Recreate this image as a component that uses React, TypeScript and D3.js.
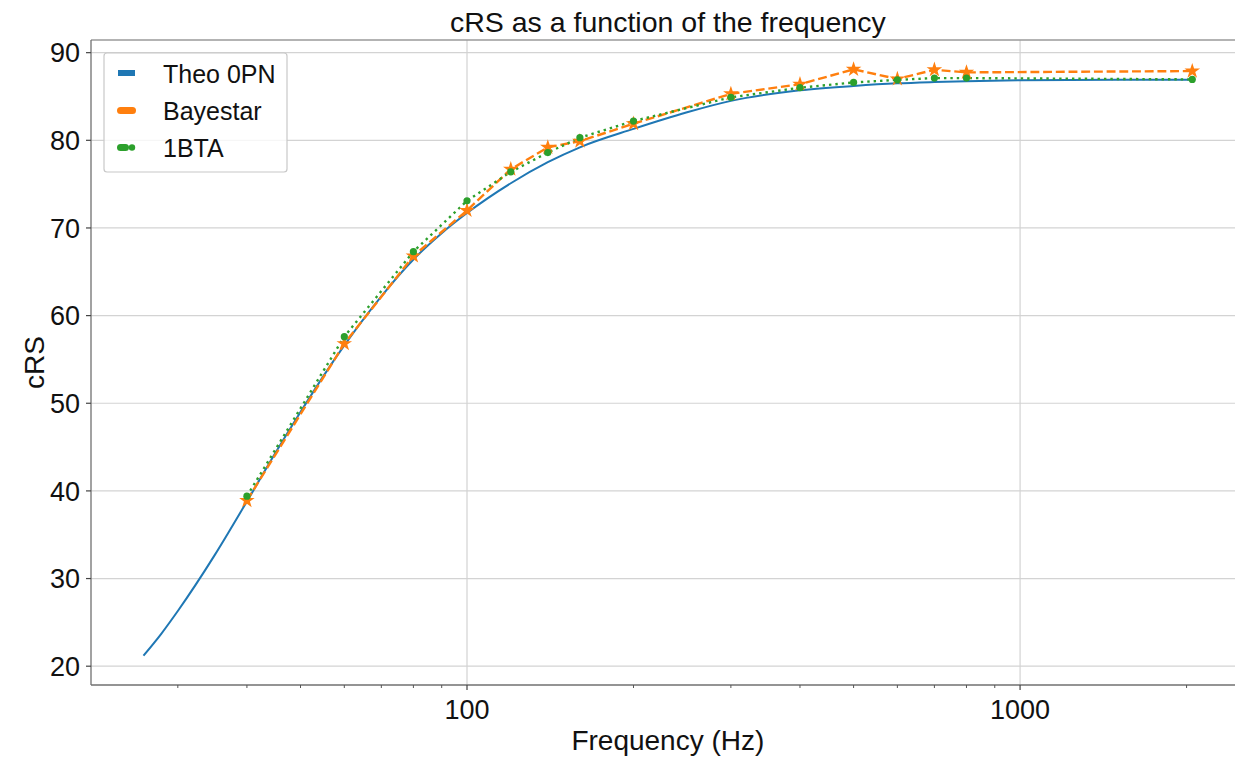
import React from "react";
import * as d3 from "d3";

// ---- data ----
const theoFreq = [26, 28, 30, 35, 40, 45, 50, 55, 60, 70, 80, 90, 100, 120, 140, 160, 200, 250, 300, 400, 500, 600, 700, 800, 1000, 1500, 2048];
const theoCRS = [21.2, 23.7, 26.3, 32.7, 38.8, 44.3, 49.0, 53.1, 56.6, 62.2, 66.4, 69.4, 71.7, 75.1, 77.5, 79.2, 81.3, 83.2, 84.5, 85.7, 86.2, 86.5, 86.65, 86.75, 86.85, 86.9, 86.9];

const measFreq = [40, 60, 80, 100, 120, 140, 160, 200, 300, 400, 500, 600, 700, 800, 2048];
const bayestarCRS = [38.9, 56.8, 66.8, 72.0, 76.7, 79.2, 79.9, 81.9, 85.3, 86.4, 88.1, 87.0, 88.05, 87.75, 87.9];
const btaCRS = [39.4, 57.6, 67.3, 73.1, 76.4, 78.6, 80.3, 82.2, 84.9, 86.0, 86.6, 86.9, 87.1, 87.1, 86.95];

const yTicks = [20, 30, 40, 50, 60, 70, 80, 90];
const xMajorTicks = [100, 1000];
const xTickLabels = ["100", "1000"];

const title = "cRS as a function of the frequency";
const xLabel = "Frequency (Hz)";
const yLabel = "cRS";
const seriesNames = ["Theo 0PN", "Bayestar", "1BTA"];

const W = 1235;
const H = 757;
const FONT = "'Liberation Sans', Arial, Helvetica, sans-serif";
const BLUE = "#1f77b4";
const ORANGE = "#ff7f0e";
const GREEN = "#2ca02c";

export default function App() {
  const left = 91;
  const top = 40;
  const bottom = 685;

  const allF = [...theoFreq, ...measFreq];
  const lo = Math.log10(d3.min(allF)!);
  const hi = Math.log10(d3.max(allF)!);
  const mx = 0.05 * (hi - lo);
  // plot width chosen so that right edge extends past the picture (as in reference)
  const plotW = 1153.7;
  const right = left + plotW;
  const x = d3.scaleLog().domain([Math.pow(10, lo - mx), Math.pow(10, hi + mx)]).range([left, right]);

  const allY = [...theoCRS, ...bayestarCRS, ...btaCRS];
  const ymin = d3.min(allY)!;
  const ymax = d3.max(allY)!;
  const my = 0.05 * (ymax - ymin);
  const y = d3.scaleLinear().domain([ymin - my, ymax + my]).range([bottom, top]);

  const theoLine = d3
    .line<number>()
    .x((_, i) => x(theoFreq[i]))
    .y((d) => y(d))
    .curve(d3.curveMonotoneX);
  const measLine = d3
    .line<number>()
    .x((_, i) => x(measFreq[i]))
    .y((d) => y(d));

  const star = d3.symbol().type(d3.symbolStar).size(75)()!;
  const minorTicks: number[] = [];
  for (let dec = 10; dec <= 1000; dec *= 10) {
    for (let k = 2; k <= 9; k++) {
      const v = dec * k;
      const px = x(v);
      if (px > left && px < W) minorTicks.push(v);
    }
  }

  return (
    <svg width={W} height={H} style={{ position: "absolute", left: 0, top: 0, display: "block", background: "#fff" }} fontFamily={FONT}>
      <defs>
        <clipPath id="plotclip">
          <rect x={left} y={top} width={right - left} height={bottom - top} />
        </clipPath>
      </defs>
      <rect x={0} y={0} width={W} height={H} fill="#fff" />
      {/* grid */}
      <g stroke="#d3d3d3" strokeWidth={1.2}>
        {yTicks.map((t) => (
          <line key={"gy" + t} x1={left} x2={right} y1={y(t)} y2={y(t)} />
        ))}
        {xMajorTicks.map((t) => (
          <line key={"gx" + t} x1={x(t)} x2={x(t)} y1={top} y2={bottom} />
        ))}
      </g>
      {/* spines */}
      <g fill="none">
        <line x1={left} x2={right} y1={top} y2={top} stroke="#9a9a9a" strokeWidth={1.3} />
        <line x1={left} x2={left} y1={top} y2={bottom} stroke="#707070" strokeWidth={1.3} />
        <line x1={left} x2={right} y1={bottom} y2={bottom} stroke="#707070" strokeWidth={1.3} />
      </g>
      {/* y ticks */}
      <g>
        {yTicks.map((t) => (
          <g key={"yt" + t}>
            <line x1={left - 5} x2={left} y1={y(t)} y2={y(t)} stroke="#444" strokeWidth={1.2} />
            <text x={left - 11} y={y(t)} dy="0.36em" textAnchor="end" fontSize={27} fill="#111">
              {t}
            </text>
          </g>
        ))}
      </g>
      {/* x ticks */}
      <g>
        {xMajorTicks.map((t, i) => (
          <g key={"xt" + t}>
            <line x1={x(t)} x2={x(t)} y1={bottom} y2={bottom + 5} stroke="#444" strokeWidth={1.2} />
            <text x={x(t)} y={bottom + 34} textAnchor="middle" fontSize={27} fill="#111">
              {xTickLabels[i]}
            </text>
          </g>
        ))}
        {minorTicks.map((t) => (
          <line key={"mt" + t} x1={x(t)} x2={x(t)} y1={bottom} y2={bottom + 3} stroke="#555" strokeWidth={1} />
        ))}
      </g>
      {/* lines */}
      <g clipPath="url(#plotclip)" fill="none">
        <path d={theoLine(theoCRS)!} stroke={BLUE} strokeWidth={2} />
        <path d={measLine(bayestarCRS)!} stroke={ORANGE} strokeWidth={2.4} strokeDasharray="8.9,3.8" />
        <path d={measLine(btaCRS)!} stroke={GREEN} strokeWidth={2.4} strokeDasharray="2.4,4" />
        {bayestarCRS.map((v, i) => (
          <path key={"bs" + i} d={star} transform={`translate(${x(measFreq[i])},${y(v)})`} fill={ORANGE} stroke="none" />
        ))}
        {btaCRS.map((v, i) => (
          <circle key={"bt" + i} cx={x(measFreq[i])} cy={y(v)} r={3.6} fill={GREEN} />
        ))}
      </g>
      {/* title and labels */}
      <text x={(left + right) / 2} y={32} textAnchor="middle" fontSize={28.5} fill="#111">
        {title}
      </text>
      <text x={(left + right) / 2} y={750} textAnchor="middle" fontSize={28} fill="#111">
        {xLabel}
      </text>
      <text transform={`translate(44,${(top + bottom) / 2}) rotate(-90)`} textAnchor="middle" fontSize={28} fill="#111">
        {yLabel}
      </text>
      {/* legend */}
      <g>
        <rect x={104} y={53} width={183} height={119} rx={3} fill="#fff" fillOpacity={0.8} stroke="#c8c8c8" strokeWidth={1.2} />
        <rect x={118} y={70} width={17} height={6} fill={BLUE} />
        <rect x={117} y={107} width={19} height={7} rx={3.5} fill={ORANGE} />
        <rect x={117} y={144} width={12} height={7} rx={3.5} fill={GREEN} />
        <circle cx={132} cy={147.5} r={3.2} fill={GREEN} />
        <text x={163} y={83} fontSize={25} fill="#111">{seriesNames[0]}</text>
        <text x={163} y={120} fontSize={25} fill="#111">{seriesNames[1]}</text>
        <text x={163} y={157} fontSize={25} fill="#111">{seriesNames[2]}</text>
      </g>
    </svg>
  );
}
